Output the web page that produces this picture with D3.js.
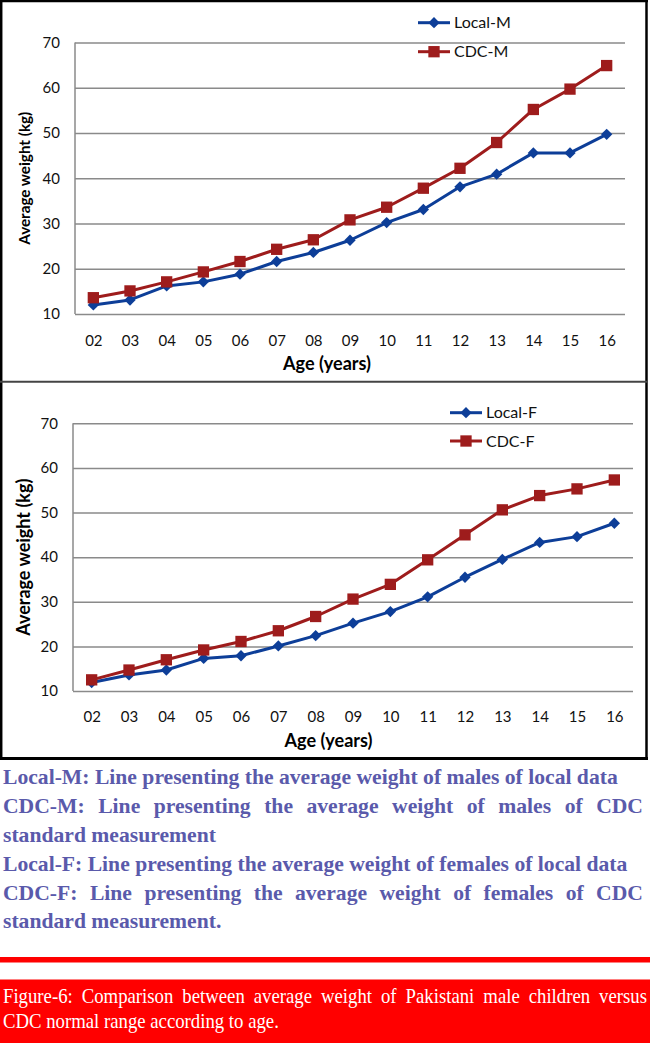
<!DOCTYPE html>
<html>
<head>
<meta charset="utf-8">
<script src="https://cdn.jsdelivr.net/npm/d3@7/dist/d3.min.js"></script>
<style>
  html, body { margin: 0; padding: 0; background: #fff; }
  svg { display: block; }
</style>
</head>
<body>
<svg id="chart" width="650" height="1043"></svg>
<script>
// ---------------- data ----------------
const ages = ["02","03","04","05","06","07","08","09","10","11","12","13","14","15","16"];
const localM = [12.0, 13.1, 16.2, 17.1, 18.8, 21.6, 23.6, 26.3, 30.2, 33.1, 38.1, 40.9, 45.6, 45.6, 49.7];
const cdcM   = [13.6, 15.1, 17.1, 19.3, 21.6, 24.3, 26.4, 30.8, 33.6, 37.8, 42.2, 47.9, 55.2, 59.7, 64.9];
const localF = [11.9, 13.6, 14.7, 17.3, 17.9, 20.1, 22.4, 25.2, 27.8, 31.1, 35.5, 39.5, 43.3, 44.6, 47.6];
const cdcF   = [12.5, 14.7, 17.0, 19.2, 21.1, 23.5, 26.7, 30.6, 33.9, 39.4, 45.0, 50.6, 53.8, 55.3, 57.3];
const yTicks = [10, 20, 30, 40, 50, 60, 70];
const yTitle = "Average weight (kg)";
const xTitle = "Age (years)";
const noteLines = [
  "Local-M: Line presenting the average weight of males of local data",
  "CDC-M: Line presenting the average weight of males of CDC",
  "standard measurement",
  "Local-F: Line presenting the average weight of females of local data",
  "CDC-F: Line presenting the average weight of females of CDC",
  "standard measurement."
];
const captionLines = [
  "Figure-6: Comparison between average weight of Pakistani male children versus",
  "CDC normal range according to age."
];

// ---------------- styles / layout ----------------
const BLUE = "#0d3e98", RED = "#9e1c1c";
const SANS = "Lato, 'Open Sans', sans-serif";
const SERIF = "'Liberation Serif', 'Times New Roman', serif";
const svg = d3.select("#chart");

const panels = [
  { series: [{ name: "Local-M", values: localM, color: BLUE, marker: "diamond" },
             { name: "CDC-M", values: cdcM, color: RED, marker: "square" }],
    left: 75, right: 625, top: 42.5, bottom: 314,
    xPad: 21, yTitleX: 24, yTitleLen: 133, yTitleSize: 16,
    xTitleY: 370, xTitleX: 327,
    legX: 418, legY: [22.7, 51.7] },
  { series: [{ name: "Local-F", values: localF, color: BLUE, marker: "diamond" },
             { name: "CDC-F", values: cdcF, color: RED, marker: "square" }],
    left: 73, right: 633, top: 423.3, bottom: 691,
    xPad: 20, yTitleX: 23, yTitleLen: 157, yTitleSize: 19,
    xTitleY: 747, xTitleX: 328.5,
    legX: 450, legY: [412.7, 441] }
];

function markerPath(kind) {
  return kind === "square"
    ? d3.symbol(d3.symbolSquare, 128)()
    : d3.symbol(d3.symbolSquare, 64)();
}
function markerTransform(kind, x, y) {
  return kind === "square" ? `translate(${x},${y})` : `translate(${x},${y}) rotate(45)`;
}

// ---------------- frames ----------------
const frame = svg.append("g");
frame.append("line").attr("x1", 0).attr("x2", 648).attr("y1", 1).attr("y2", 1)
  .attr("stroke", "#000").attr("stroke-width", 2.5);
frame.append("line").attr("x1", 1.2).attr("x2", 1.2).attr("y1", 0).attr("y2", 760)
  .attr("stroke", "#000").attr("stroke-width", 2.5);
frame.append("line").attr("x1", 646.5).attr("x2", 646.5).attr("y1", 0).attr("y2", 760)
  .attr("stroke", "#000").attr("stroke-width", 2.5);
frame.append("line").attr("x1", 0).attr("x2", 648).attr("y1", 381.7).attr("y2", 381.7)
  .attr("stroke", "#444").attr("stroke-width", 2);
frame.append("line").attr("x1", 0).attr("x2", 648).attr("y1", 758.5).attr("y2", 758.5)
  .attr("stroke", "#000").attr("stroke-width", 3);

// ---------------- charts ----------------
panels.forEach(p => {
  const g = svg.append("g");
  const x = d3.scalePoint().domain(ages).range([p.left, p.right]).padding(0.5);
  const y = d3.scaleLinear().domain([10, 70]).range([p.bottom, p.top]);

  // gridlines + y labels
  const ya = g.append("g").attr("transform", `translate(${p.left},0)`)
    .call(d3.axisLeft(y).tickValues(yTicks).tickSize(-(p.right - p.left)).tickPadding(15).tickFormat(d3.format("d")));
  ya.select(".domain").remove();
  ya.selectAll(".tick line").attr("stroke", "#8a8a8a").attr("stroke-width", 1.5);
  ya.selectAll(".tick text").attr("fill", "#111").style("font-family", SANS).style("font-size", "15px");
  g.append("line").attr("x1", p.left).attr("x2", p.left).attr("y1", p.top).attr("y2", p.bottom)
    .attr("stroke", "#8a8a8a").attr("stroke-width", 1.5);

  // x labels
  const xa = g.append("g").attr("transform", `translate(0,${p.bottom})`)
    .call(d3.axisBottom(x).tickSize(0).tickPadding(p.xPad));
  xa.select(".domain").remove();
  xa.selectAll(".tick text").attr("fill", "#111").style("font-family", SANS).style("font-size", "15px");

  // titles
  g.append("text").text(yTitle)
    .attr("transform", `translate(${p.yTitleX},${(p.top + p.bottom) / 2}) rotate(-90)`)
    .attr("text-anchor", "middle").attr("dy", "0.35em")
    .attr("textLength", p.yTitleLen).attr("lengthAdjust", "spacingAndGlyphs")
    .style("font-family", SANS).style("font-weight", "bold").style("font-size", p.yTitleSize + "px")
    .attr("fill", "#000");
  g.append("text").text(xTitle)
    .attr("x", p.xTitleX).attr("y", p.xTitleY).attr("text-anchor", "middle")
    .attr("textLength", 88).attr("lengthAdjust", "spacingAndGlyphs")
    .style("font-family", SANS).style("font-weight", "bold").style("font-size", "18px")
    .attr("fill", "#000");

  // series
  const line = d3.line().x((d, i) => x(ages[i])).y(d => y(d));
  p.series.forEach(s => {
    g.append("path").datum(s.values).attr("d", line)
      .attr("fill", "none").attr("stroke", s.color).attr("stroke-width", 3).attr("stroke-linejoin", "round");
    g.selectAll(null).data(s.values).enter().append("path")
      .attr("d", markerPath(s.marker))
      .attr("transform", (d, i) => markerTransform(s.marker, x(ages[i]), y(d)))
      .attr("fill", s.color);
  });

  // legend
  p.series.forEach((s, k) => {
    const ly = p.legY[k];
    g.append("line").attr("x1", p.legX).attr("x2", p.legX + 32).attr("y1", ly).attr("y2", ly)
      .attr("stroke", s.color).attr("stroke-width", 3);
    g.append("path").attr("d", markerPath(s.marker))
      .attr("transform", markerTransform(s.marker, p.legX + 16, ly)).attr("fill", s.color);
    g.append("text").text(s.name).attr("x", p.legX + 36).attr("y", ly).attr("dy", "0.35em")
      .style("font-family", SANS).style("font-size", "16px").attr("fill", "#111");
  });
});

// ---------------- notes ----------------
const NOTE_COLOR = "#5a5aab";
const noteBase = [784, 813, 842, 871, 900, 928.5];
const noteJustify = [false, true, false, false, true, false];
const notesG = svg.append("g");
const noteTexts = noteLines.map((t, i) => notesG.append("text").text(t)
  .attr("y", noteBase[i])
  .style("font-family", SERIF).style("font-weight", "bold").style("font-size", "21px")
  .attr("fill", NOTE_COLOR));
const w1 = noteTexts[0].node().getComputedTextLength();
const sx = (618 - 3) / w1;
notesG.attr("transform", `scale(${sx},1)`);
noteTexts.forEach((t, i) => {
  t.attr("x", 3 / sx);
  if (noteJustify[i]) {
    const w = t.node().getComputedTextLength();
    const gaps = noteLines[i].split(" ").length - 1;
    t.style("word-spacing", (((643 - 3) / sx - w) / gaps) + "px");
  }
});

// ---------------- red rule & caption ----------------
svg.append("rect").attr("x", 0).attr("y", 957).attr("width", 650).attr("height", 5.5).attr("fill", "#ff0000");
svg.append("rect").attr("x", 0).attr("y", 979.5).attr("width", 650).attr("height", 64).attr("fill", "#ff0000");
const capG = svg.append("g");
const capBase = [1003, 1028];
const capTexts = captionLines.map((t, i) => capG.append("text").text(t)
  .attr("y", capBase[i])
  .style("font-family", SERIF).style("font-size", "20px").attr("fill", "#fff"));
const cw2 = capTexts[1].node().getComputedTextLength();
const csx = (279 - 3) / cw2;
capG.attr("transform", `scale(${csx},1)`);
capTexts.forEach((t, i) => {
  t.attr("x", 3 / csx);
  if (i === 0) {
    const w = t.node().getComputedTextLength();
    const gaps = captionLines[0].split(" ").length - 1;
    t.style("word-spacing", (((647 - 3) / csx - w) / gaps) + "px");
  }
});
</script>
</body>
</html>
